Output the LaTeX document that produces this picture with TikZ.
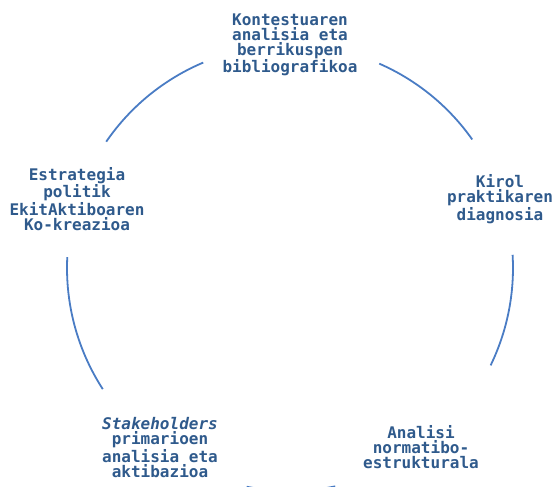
\documentclass[tikz,border=0pt]{standalone}
\usepackage{fontspec}
\setmonofont{DejaVu Sans Mono}
\definecolor{txtblue}{RGB}{47,90,140}
\definecolor{arcblue}{RGB}{74,124,196}
\begin{document}
\begin{tikzpicture}[x=1pt,y=1pt,
  lbl/.style={align=center, text=txtblue, inner sep=0pt,
    font=\ttfamily\bfseries\fontsize{16}{15}\selectfont},
  ring/.style={draw=arcblue, line width=1.8pt}]
\useasboundingbox (0,0) rectangle (555,487);
\coordinate (c) at (290,219);
\node[lbl] (n1) at (290,442.5) {Kontestuaren\\analisia eta\\berrikuspen\\bibliografikoa};
\node[lbl] (n2) at (500,288) {Kirol\\praktikaren\\diagnosia};
\node[lbl] (n3) at (421,39.5) {Analisi\\normatibo-\\estrukturala};
\node[lbl] (n4) at (160,39.5) {\textit{Stakeholders}\\primarioen\\analisia eta\\aktibazioa};
\node[lbl] (n5) at (77,288) {Estrategia\\politik\\EkitAktiboaren\\Ko-kreazioa};
\draw[ring] ([shift={(112.9:223)}]c) arc[start angle=112.9, end angle=145.5, radius=223];
\draw[ring] ([shift={(35.2:223)}]c) arc[start angle=35.2, end angle=66.4, radius=223];
\draw[ring] ([shift={(-25.9:223)}]c) arc[start angle=-25.9, end angle=3.4, radius=223];
\draw[ring] ([shift={(258.8:223)}]c) arc[start angle=258.8, end angle=281.7, radius=223];
\draw[ring] ([shift={(177.2:223)}]c) arc[start angle=177.2, end angle=212.9, radius=223];
\end{tikzpicture}
\end{document}
